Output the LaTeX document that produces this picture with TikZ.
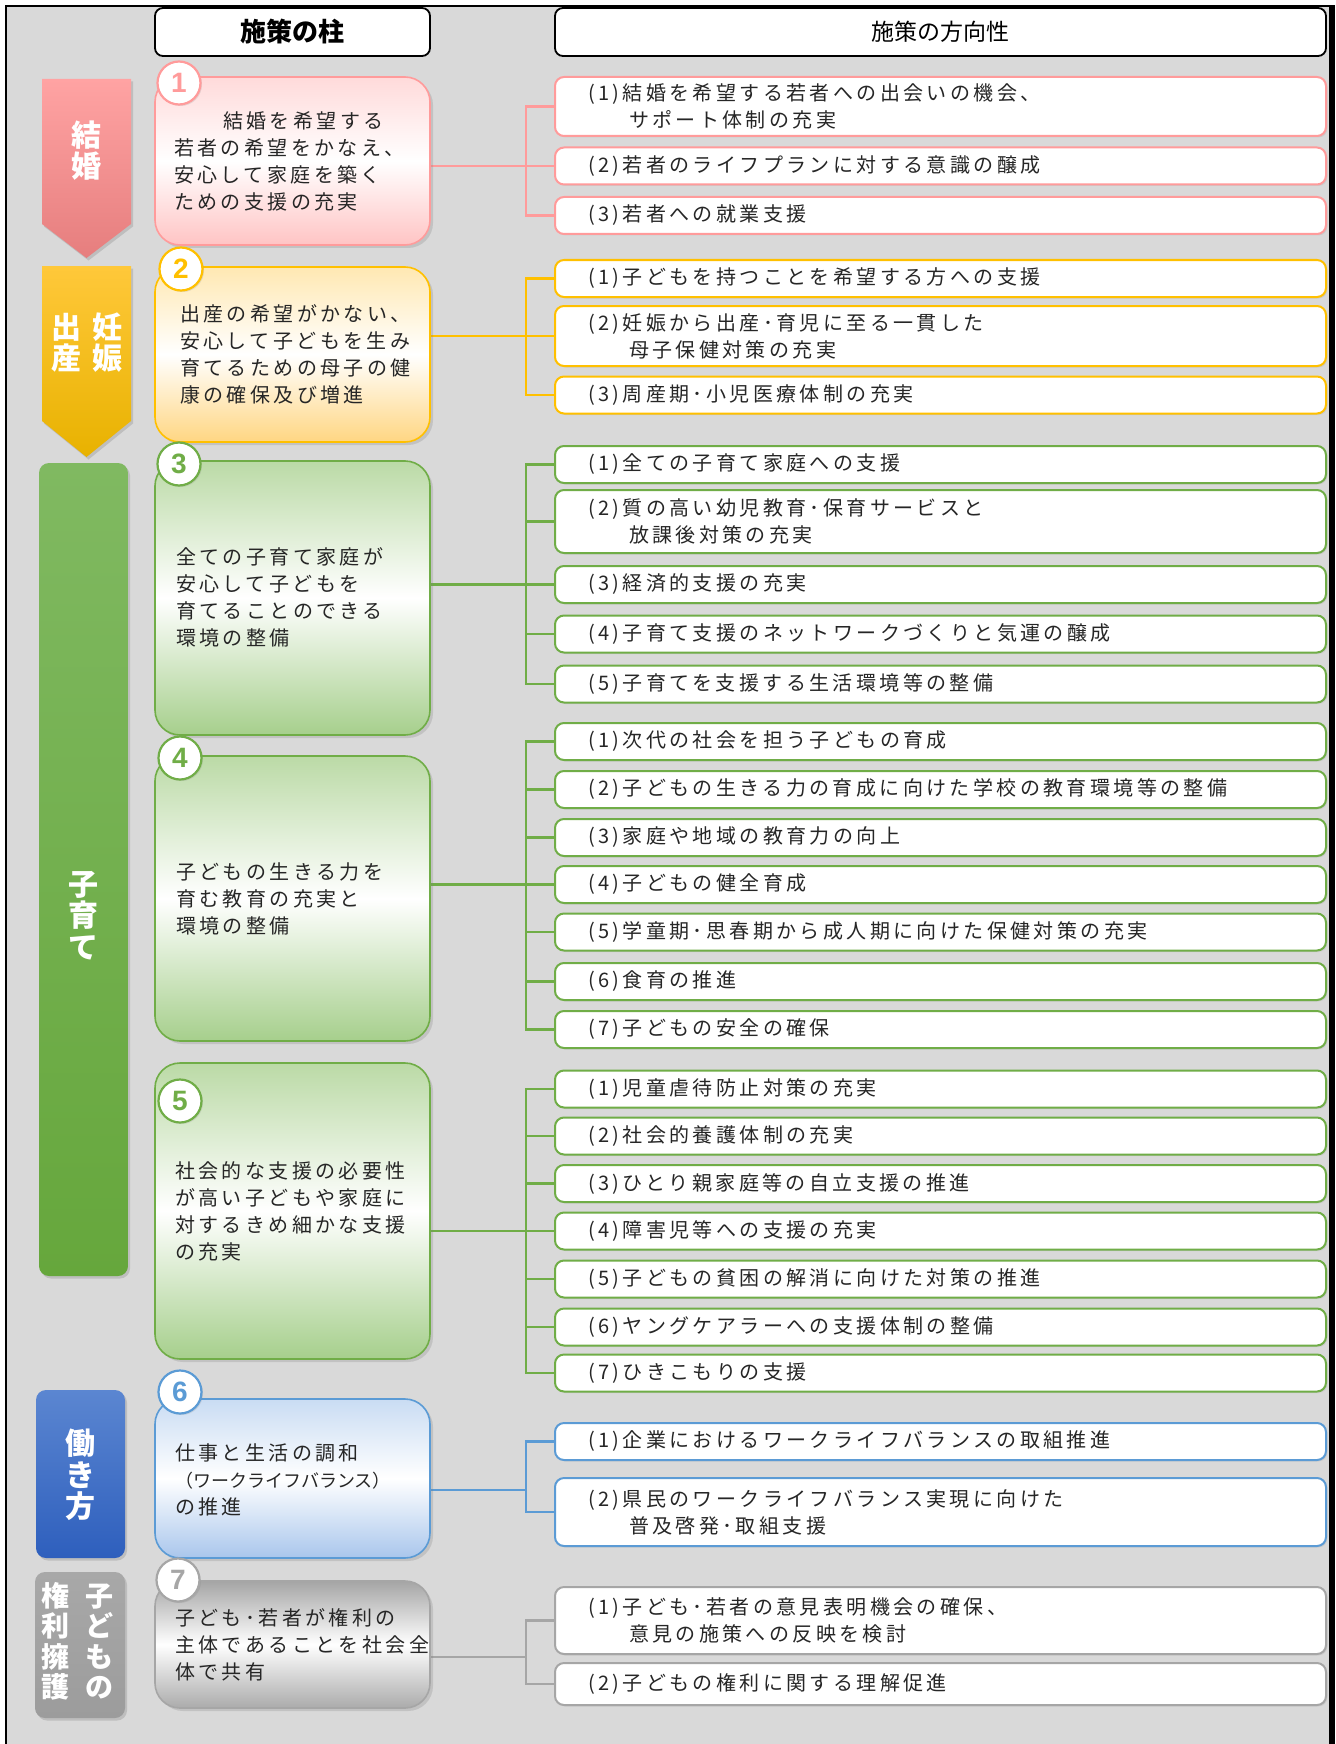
\documentclass[tikz,border=0pt]{standalone}
\usepackage{fontspec}
\newfontfamily\zjp{Noto Sans CJK JP}
\newfontfamily\zjpsp{Noto Sans CJK JP}[LetterSpace=17]
\newfontfamily\znum{Liberation Sans}
\usetikzlibrary{shadows}
\pgfdeclarelayer{back}
\pgfdeclarelayer{conn}
\pgfsetlayers{back,conn,main}
\newcommand\zItem{\zjpsp\fontsize{20}{27}\selectfont}
\newcommand\zCat{\zjp\bfseries\fontsize{30}{31.5}\selectfont}
\newcommand\zGy{\zjp\bfseries\fontsize{28}{30.5}\selectfont}
\definecolor{bgc}{HTML}{D9D9D9}
\definecolor{txt}{HTML}{262626}
\definecolor{pk}{HTML}{FF9B9B}
\definecolor{yl}{HTML}{FFC000}
\definecolor{gr}{HTML}{70AD47}
\definecolor{bl}{HTML}{5B9BD5}
\definecolor{gy}{HTML}{A6A6A6}
\definecolor{pkT}{HTML}{FFDADA}
\definecolor{pkB}{HTML}{FFC4C4}
\definecolor{ylT}{HTML}{FFE8B2}
\definecolor{ylB}{HTML}{FFD682}
\definecolor{grT}{HTML}{BBDAA6}
\definecolor{grB}{HTML}{A6CF8C}
\definecolor{blT}{HTML}{C9DCF3}
\definecolor{blB}{HTML}{A9C6EC}
\definecolor{gyT}{HTML}{A5A5A5}
\definecolor{gyB}{HTML}{ABABAB}
\definecolor{pkA}{HTML}{FFA3A3}
\definecolor{pkZ}{HTML}{E67E7E}
\definecolor{ylA}{HTML}{FFC83A}
\definecolor{ylZ}{HTML}{E8B200}
\definecolor{grA}{HTML}{80B961}
\definecolor{grZ}{HTML}{66A73C}
\definecolor{blA}{HTML}{5B86D1}
\definecolor{blZ}{HTML}{2E5FBD}
\definecolor{gyA}{HTML}{A8A8A8}
\definecolor{gyZ}{HTML}{9C9C9C}
\tikzset{
  hdr/.style={draw=black, fill=white, line width=1.8pt, rounded corners=8pt,
    minimum width=#1, minimum height=48pt, inner sep=0pt, text=black},
  pillar/.style n args={3}{draw=#1, line width=1.6pt, rounded corners=25pt,
    top color=#2, bottom color=#3, middle color=white, minimum width=275pt,
    inner sep=0pt, drop shadow={opacity=0.25, shadow xshift=3pt, shadow yshift=-3pt}},
  ptext/.style={anchor=west, align=left, font=\zItem, text=txt, inner sep=0pt},
  catsh/.style={drop shadow={opacity=0.3, shadow xshift=2pt, shadow yshift=-2.5pt}},
  cat/.style={text=white, align=center, font=\zCat, inner sep=0pt},
  numc/.style={circle, draw=#1, fill=white, line width=2.2pt, minimum size=43pt,
    inner sep=0pt, text=#1, font=\znum\bfseries\fontsize{28}{28}\selectfont,
    drop shadow={opacity=0.2, shadow xshift=1.5pt, shadow yshift=-1.5pt}},
  item/.style={draw=#1, fill=white, line width=2pt, rounded corners=9pt,
    text width=705pt, inner xsep=33pt, inner ysep=0pt, minimum height=37pt,
    align=left, font=\zItem, text=txt,
    drop shadow={opacity=0.15, shadow xshift=1.5pt, shadow yshift=-1.5pt}},
  conn/.style={draw=#1, line width=2.5pt, line cap=rect}
}
\begin{document}
\begin{tikzpicture}[x=1pt,y=-1pt]
\useasboundingbox (0,0) rectangle (1335,1744);
\begin{pgfonlayer}{back}
\fill[white] (0,0) rectangle (1335,1744);
\fill[bgc] (6,6) rectangle (1330,1744);
\draw[black,line width=2pt] (6,1744) -- (6,6) -- (1330,6);
\fill[black] (1329,5) rectangle (1335,1744);
\end{pgfonlayer}

% headers
\node[hdr=275pt, font=\zjp\bfseries\fontsize{26}{26}\selectfont] (h1) at (292.5,32) {施策の柱};
\node[hdr=771pt, font=\zjp\fontsize{23}{23}\selectfont] (h2) at (940.5,32) {施策の方向性};

% category shapes
\path[catsh, top color=pkA, bottom color=pkZ] (42,79) -- (131,79) -- (131,224) -- (86.5,258) -- (42,224) -- cycle;
\path[catsh, top color=ylA, bottom color=ylZ] (42,266) -- (131,266) -- (131,421) -- (86.5,457) -- (42,421) -- cycle;
\path[catsh, top color=grA, bottom color=grZ, rounded corners=10pt] (39,463) rectangle (128,1276);
\path[catsh, top color=blA, bottom color=blZ, rounded corners=10pt] (36,1390) rectangle (125,1558);
\path[catsh, top color=gyA, bottom color=gyZ, rounded corners=10pt] (35,1572) rectangle (125,1718);

\node[cat] (k1) at (86.5,150.5) {結\\婚};
\node[cat] (k2a) at (107,342.5) {妊\\娠};
\node[cat] (k2b) at (66,342.5) {出\\産};
\node[cat] (k3) at (83.5,915.5) {子\\育\\て};
\node[cat] (k4) at (80.5,1475) {働\\き\\方};
\node[cat, font=\zGy] (k5a) at (99,1641.5) {子\\ど\\も\\の};
\node[cat, font=\zGy] (k5b) at (55,1641.5) {権\\利\\擁\\護};

% pillars
\node[pillar={pk}{pkT}{pkB}, minimum height=168pt] (b1) at (292.5,161) {};
\node[pillar={yl}{ylT}{ylB}, minimum height=175pt] (b2) at (292.5,354.5) {};
\node[pillar={gr}{grT}{grB}, minimum height=274pt] (b3) at (292.5,598) {};
\node[pillar={gr}{grT}{grB}, minimum height=285pt] (b4) at (292.5,898.5) {};
\node[pillar={gr}{grT}{grB}, minimum height=296pt] (b5) at (292.5,1211) {};
\node[pillar={bl}{blT}{blB}, minimum height=159pt] (b6) at (292.5,1478.5) {};
\node[pillar={gy}{gyT}{gyB}, minimum height=127pt] (b7) at (292.5,1644.5) {};

\node[ptext] (t1) at (174,161) {\hspace*{49pt}結婚を希望する\\若者の希望をかなえ、\\安心して家庭を築く\\ための支援の充実};
\node[ptext] (t2) at (180,354.5) {出産の希望がかない、\\安心して子どもを生み\\育てるための母子の健\\康の確保及び増進};
\node[ptext] (t3) at (176,597.5) {全ての子育て家庭が\\安心して子どもを\\育てることのできる\\環境の整備};
\node[ptext] (t4) at (176,899) {子どもの生きる力を\\育む教育の充実と\\環境の整備};
\node[ptext] (t5) at (175,1211.5) {社会的な支援の必要性\\が高い子どもや家庭に\\対するきめ細かな支援\\の充実};
\node[ptext] (t6) at (175,1480) {仕事と生活の調和\\{\zjp\fontsize{18}{27}\selectfont （ワークライフバランス）}\\の推進};
\node[ptext] (t7) at (175,1645) {子ども･若者が権利の\\主体であることを社会全\\体で共有};

% number circles
\node[numc=pk] (c1) at (179,83) {1};
\node[numc=yl] (c2) at (181,269) {2};
\node[numc=gr] (c3) at (179,464) {3};
\node[numc=gr] (c4) at (180,758) {4};
\node[numc=gr] (c5) at (180,1101) {5};
\node[numc=bl] (c6) at (180,1392) {6};
\node[numc=gy] (c7) at (178,1580) {7};

% items
\node[item=pk, minimum height=59pt] (p1) at (940.5,106.5) {(1)\,結婚を希望する若者への出会いの機会、\\\hspace*{41pt}サポート体制の充実};
\node[item=pk] (p2) at (940.5,166) {(2)\,若者のライフプランに対する意識の醸成};
\node[item=pk] (p3) at (940.5,215.5) {(3)\,若者への就業支援};

\node[item=yl] (y1) at (940.5,278.5) {(1)\,子どもを持つことを希望する方への支援};
\node[item=yl, minimum height=60pt] (y2) at (940.5,336) {(2)\,妊娠から出産･育児に至る一貫した\\\hspace*{41pt}母子保健対策の充実};
\node[item=yl] (y3) at (940.5,395) {(3)\,周産期･小児医療体制の充実};

\node[item=gr] (g1) at (940.5,464.5) {(1)\,全ての子育て家庭への支援};
\node[item=gr, minimum height=63pt] (g2) at (940.5,521.5) {(2)\,質の高い幼児教育･保育サービスと\\\hspace*{41pt}放課後対策の充実};
\node[item=gr] (g3) at (940.5,584.5) {(3)\,経済的支援の充実};
\node[item=gr] (g4) at (940.5,634) {(4)\,子育て支援のネットワークづくりと気運の醸成};
\node[item=gr] (g5) at (940.5,684) {(5)\,子育てを支援する生活環境等の整備};

\node[item=gr] (m1) at (940.5,741.5) {(1)\,次代の社会を担う子どもの育成};
\node[item=gr] (m2) at (940.5,789.5) {(2)\,子どもの生きる力の育成に向けた学校の教育環境等の整備};
\node[item=gr] (m3) at (940.5,837.5) {(3)\,家庭や地域の教育力の向上};
\node[item=gr] (m4) at (940.5,884.5) {(4)\,子どもの健全育成};
\node[item=gr] (m5) at (940.5,932) {(5)\,学童期･思春期から成人期に向けた保健対策の充実};
\node[item=gr] (m6) at (940.5,981.5) {(6)\,食育の推進};
\node[item=gr] (m7) at (940.5,1029.5) {(7)\,子どもの安全の確保};

\node[item=gr] (s1) at (940.5,1089) {(1)\,児童虐待防止対策の充実};
\node[item=gr] (s2) at (940.5,1136) {(2)\,社会的養護体制の充実};
\node[item=gr] (s3) at (940.5,1183.5) {(3)\,ひとり親家庭等の自立支援の推進};
\node[item=gr] (s4) at (940.5,1231) {(4)\,障害児等への支援の充実};
\node[item=gr] (s5) at (940.5,1279) {(5)\,子どもの貧困の解消に向けた対策の推進};
\node[item=gr] (s6) at (940.5,1327) {(6)\,ヤングケアラーへの支援体制の整備};
\node[item=gr] (s7) at (940.5,1373) {(7)\,ひきこもりの支援};

\node[item=bl] (w1) at (940.5,1441.5) {(1)\,企業におけるワークライフバランスの取組推進};
\node[item=bl, minimum height=68pt] (w2) at (940.5,1512) {(2)\,県民のワークライフバランス実現に向けた\\\hspace*{41pt}普及啓発･取組支援};

\node[item=gy, minimum height=67pt] (r1) at (940.5,1620.5) {(1)\,子ども･若者の意見表明機会の確保、\\\hspace*{41pt}意見の施策への反映を検討};
\node[item=gy, minimum height=42pt] (r2) at (940.5,1684) {(2)\,子どもの権利に関する理解促進};

% connectors
\begin{pgfonlayer}{conn}
\coordinate (jp) at (526,166);
\coordinate (jy) at (526,336);
\coordinate (jg) at (526,584.5);
\coordinate (jm) at (526,884.5);
\coordinate (js) at (526,1231);
\coordinate (jw) at (526,1490);
\coordinate (jr) at (526,1657);
\draw[conn=pk] (b1.east |- jp) -- (jp);
\draw[conn=pk] (jp |- p1.west) -- (jp |- p3.west);
\foreach \k in {p1,p2,p3} \draw[conn=pk] (jp |- \k.west) -- (\k.west);
\draw[conn=yl] (b2.east |- jy) -- (jy);
\draw[conn=yl] (jy |- y1.west) -- (jy |- y3.west);
\foreach \k in {y1,y2,y3} \draw[conn=yl] (jy |- \k.west) -- (\k.west);
\draw[conn=gr] (b3.east |- jg) -- (jg);
\draw[conn=gr] (jg |- g1.west) -- (jg |- g5.west);
\foreach \k in {g1,g2,g3,g4,g5} \draw[conn=gr] (jg |- \k.west) -- (\k.west);
\draw[conn=gr] (b4.east |- jm) -- (jm);
\draw[conn=gr] (jm |- m1.west) -- (jm |- m7.west);
\foreach \k in {m1,m2,m3,m4,m5,m6,m7} \draw[conn=gr] (jm |- \k.west) -- (\k.west);
\draw[conn=gr] (b5.east |- js) -- (js);
\draw[conn=gr] (js |- s1.west) -- (js |- s7.west);
\foreach \k in {s1,s2,s3,s4,s5,s6,s7} \draw[conn=gr] (js |- \k.west) -- (\k.west);
\draw[conn=bl] (b6.east |- jw) -- (jw);
\draw[conn=bl] (jw |- w1.west) -- (jw |- w2.west);
\foreach \k in {w1,w2} \draw[conn=bl] (jw |- \k.west) -- (\k.west);
\draw[conn=gy] (b7.east |- jr) -- (jr);
\draw[conn=gy] (jr |- r1.west) -- (jr |- r2.west);
\foreach \k in {r1,r2} \draw[conn=gy] (jr |- \k.west) -- (\k.west);
\end{pgfonlayer}
\end{tikzpicture}
\end{document}
